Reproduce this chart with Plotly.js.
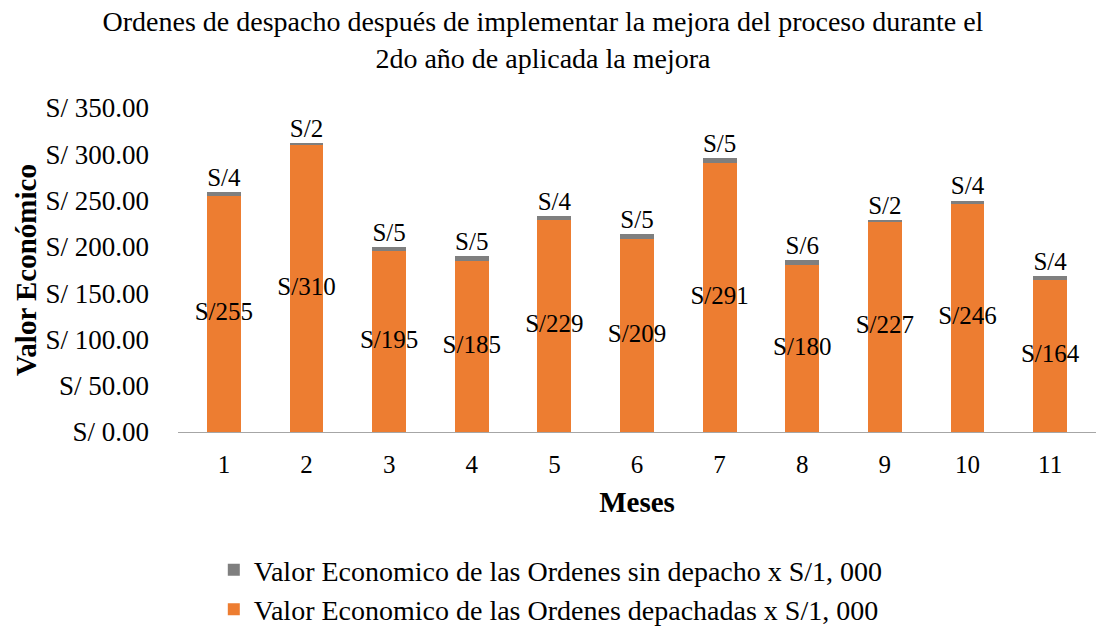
<!DOCTYPE html>
<html><head><meta charset="utf-8">
<script src="https://cdn.plot.ly/plotly-3.0.1.min.js"></script>
<style>html,body{margin:0;padding:0;background:#fff}</style>
</head><body><div id="chart" style="width:1096px;height:628px"></div>
<script>
const months = ['1','2','3','4','5','6','7','8','9','10','11'];
const despachadas = [255,310,195,185,229,209,291,180,227,246,164];
const sinDespacho = [4,2,5,5,4,5,5,6,2,4,4];
const yTicks = [0,50,100,150,200,250,300,350];
const yTickText = yTicks.map(v => 'S/ ' + v.toFixed(2));
const nameSin = 'Valor Economico de las Ordenes sin depacho x S/1, 000';
const nameDesp = 'Valor Economico de las Ordenes depachadas x S/1, 000';

const FONT = 'Liberation Serif';

const traces = [
  {type:'bar', x:months, y:despachadas, name:nameDesp, marker:{color:'#ED7D31'}, width:0.41, hoverinfo:'none'},
  {type:'bar', x:months, y:sinDespacho, name:nameSin, marker:{color:'#7F7F7F'}, width:0.41, hoverinfo:'none'},
  {type:'scatter', mode:'text', x:months, y:despachadas.map(v=>v/2), text:despachadas.map(v=>'S/'+v),
   textposition:'middle center', textfont:{family:FONT,size:25,color:'#000'}, showlegend:false, hoverinfo:'none'},
  {type:'scatter', mode:'text', x:months, y:despachadas.map((v,i)=>v+sinDespacho[i]), text:sinDespacho.map(v=>'S/'+v),
   textposition:'top center', textfont:{family:FONT,size:25,color:'#000'}, showlegend:false, hoverinfo:'none'}
];

const layout = {
  width:1096, height:628,
  margin:{l:178, r:0, t:108, b:196},
  paper_bgcolor:'#fff', plot_bgcolor:'#fff',
  font:{family:FONT, size:25, color:'#000'},
  barmode:'stack',
  title:{text:'Ordenes de despacho después de implementar la mejora del proceso durante el<br>2do año de aplicada la mejora',
    x:0.4954, xanchor:'center', yref:'container', y:0.95, yanchor:'top', font:{family:FONT,size:28,color:'#000'}},
  xaxis:{type:'category', showgrid:false, showline:true, linecolor:'#A6A6A6', linewidth:1, ticks:'',
    ticklabelstandoff:10, tickfont:{family:FONT,size:25},
    title:{text:'<b>Meses</b>', font:{family:FONT,size:29}, standoff:14}},
  yaxis:{range:[0,350], tickvals:yTicks, ticktext:yTickText, showgrid:false, zeroline:false, showline:false, ticks:'',
    ticklabelstandoff:28, tickfont:{family:FONT,size:27},
    title:{text:'<b>Valor Económico</b>', font:{family:FONT,size:29}, standoff:0}},
  showlegend:true,
  legend:{orientation:'v', traceorder:'reversed', x:0.039, xanchor:'left', yref:'container', y:0.132, yanchor:'top',
    font:{family:FONT,size:28}, tracegroupgap:0, itemwidth:30}
};

Plotly.newPlot('chart', traces, layout, {displayModeBar:false, staticPlot:true});
</script></body></html>
